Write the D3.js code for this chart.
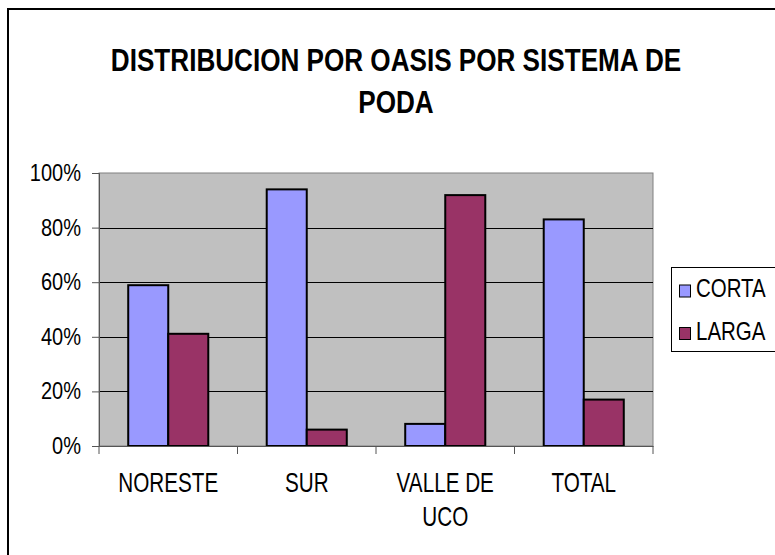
<!DOCTYPE html>
<html>
<head>
<meta charset="utf-8">
<script src="https://cdn.jsdelivr.net/npm/d3@7"></script>
<style>
    html, body { margin: 0; padding: 0; background: #fff; }
    svg { display: block; font-family: "Liberation Sans", Arial, sans-serif; }
</style>
</head>
<body>
<svg id="chart"></svg>
<script>
// Data
const categories = [['NORESTE'], ['SUR'], ['VALLE DE', 'UCO'], ['TOTAL']];
const series = ['CORTA', 'LARGA'];
const corta = [0.589, 0.94, 0.081, 0.83];
const larga = [0.411, 0.06, 0.919, 0.17];
const yTicks = [0, 0.2, 0.4, 0.6, 0.8, 1];
const titleLines = ['DISTRIBUCION POR OASIS POR SISTEMA DE', 'PODA'];

const COLORS = { CORTA: '#9999ff', LARGA: '#993366' };

const width = 775;
const height = 555;
const plot = { left: 99, right: 653, top: 173, bottom: 446 };

const svg = d3.select('#chart')
    .attr('width', width)
    .attr('height', height);

svg.append('rect')
    .attr('width', width)
    .attr('height', height)
    .attr('fill', '#fff');

// outer chart frame (right/bottom fall outside the picture)
svg.append('rect')
    .attr('x', 8).attr('y', 9)
    .attr('width', 800).attr('height', 600)
    .attr('fill', 'none')
    .attr('stroke', '#000')
    .attr('stroke-width', 2);

// narrow text helper: the reference uses a condensed face
function label(g, x, y, str, size, sx, anchor, weight) {
    return g.append('text')
        .attr('transform', `translate(${x},${y}) scale(${sx},1)`)
        .attr('text-anchor', anchor)
        .attr('font-size', size)
        .attr('font-weight', weight || 'normal')
        .attr('fill', '#000')
        .text(str);
}

// title
const titleG = svg.append('g');
titleLines.forEach((t, i) => {
    label(titleG, 396, i === 0 ? 71 : 112.5, t, 32, 0.816, 'middle', 'bold');
});

const keys = categories.map(c => c.join(' '));

const x0 = d3.scaleBand()
    .domain(keys)
    .range([plot.left, plot.right]);

const x1 = d3.scaleBand()
    .domain(series)
    .range([0, x0.bandwidth()])
    .paddingOuter(0.73);

const y = d3.scaleLinear()
    .domain([0, 1])
    .range([plot.bottom, plot.top]);

// plot area
svg.append('rect')
    .attr('x', plot.left)
    .attr('y', plot.top)
    .attr('width', plot.right - plot.left)
    .attr('height', plot.bottom - plot.top)
    .attr('fill', '#c0c0c0')
    .attr('stroke', '#808080')
    .attr('stroke-width', 1);

// gridlines
svg.append('g').selectAll('line')
    .data(yTicks.filter(d => d > 0 && d < 1))
    .join('line')
    .attr('x1', plot.left)
    .attr('x2', plot.right)
    .attr('y1', d => Math.round(y(d)) + 0.5)
    .attr('y2', d => Math.round(y(d)) + 0.5)
    .attr('stroke', '#000')
    .attr('stroke-width', 1);

// bars
const rows = keys.map((k, i) => ({ key: k, CORTA: corta[i], LARGA: larga[i] }));

svg.append('g').selectAll('g')
    .data(rows)
    .join('g')
    .attr('transform', d => `translate(${x0(d.key)},0)`)
    .selectAll('rect')
    .data(d => series.map(s => ({ s, v: d[s] })))
    .join('rect')
    .attr('x', d => x1(d.s))
    .attr('y', d => y(d.v))
    .attr('width', x1.bandwidth())
    .attr('height', d => y(0) - y(d.v))
    .attr('fill', d => COLORS[d.s])
    .attr('stroke', '#000')
    .attr('stroke-width', 2);

// y axis
const yAxis = svg.append('g')
    .attr('transform', `translate(${plot.left},0)`)
    .call(d3.axisLeft(y).tickValues(yTicks).tickSize(7).tickFormat(''));
yAxis.select('.domain').attr('stroke', '#555');
yAxis.selectAll('.tick line').attr('stroke', '#555');

const yLab = svg.append('g');
yTicks.forEach(t => {
    label(yLab, 81, y(t) + 8, d3.format('.0%')(t), 23, 0.87, 'end');
});

// x axis
const xAxis = svg.append('g')
    .attr('transform', `translate(0,${plot.bottom})`)
    .call(d3.axisBottom(x0).tickSize(0).tickFormat(''));
xAxis.select('.domain').attr('stroke', '#555');

svg.append('g').selectAll('line')
    .data(d3.range(keys.length + 1))
    .join('line')
    .attr('x1', i => i < keys.length ? x0(keys[i]) : x0.range()[1])
    .attr('x2', i => i < keys.length ? x0(keys[i]) : x0.range()[1])
    .attr('y1', plot.bottom)
    .attr('y2', plot.bottom + 8)
    .attr('stroke', '#555');

const xLab = svg.append('g');
categories.forEach((lines, i) => {
    const cx = x0(keys[i]) + x0.bandwidth() / 2;
    lines.forEach((ln, j) => {
        label(xLab, cx, 491.5 + j * 34.5, ln, 27, 0.766, 'middle');
    });
});

// legend
const legend = svg.append('g');
legend.append('rect')
    .attr('x', 671.5).attr('y', 267.5)
    .attr('width', 120).attr('height', 84)
    .attr('fill', '#fff')
    .attr('stroke', '#000')
    .attr('stroke-width', 1);

series.forEach((s, i) => {
    const by = 297 + i * 42.5;
    legend.append('rect')
        .attr('x', 679.5).attr('y', by - 12)
        .attr('width', 11).attr('height', 12)
        .attr('fill', COLORS[s])
        .attr('stroke', '#000')
        .attr('stroke-width', 1);
    label(legend, 696, by, s, 25.6, 0.8, 'start');
});
</script>
</body>
</html>
